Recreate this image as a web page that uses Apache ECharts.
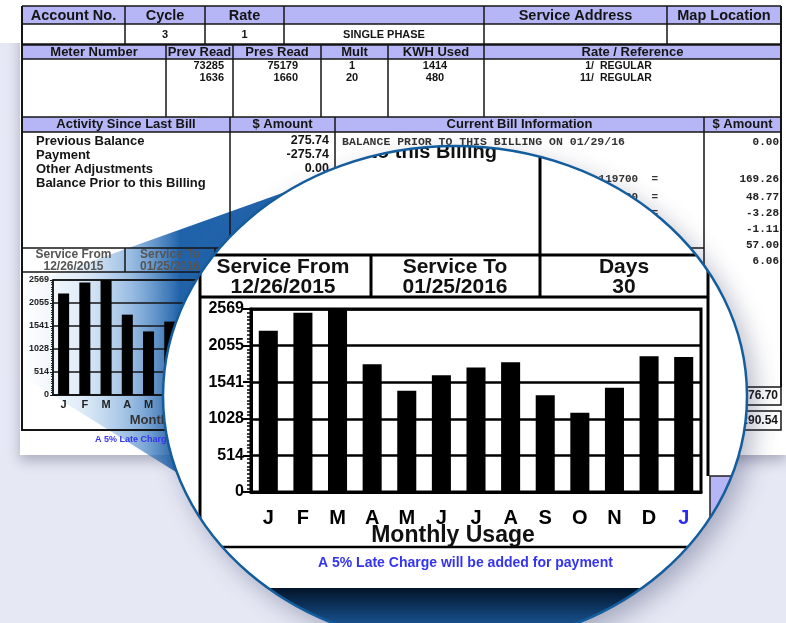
<!DOCTYPE html>
<html>
<head>
<meta charset="utf-8">
<script src="https://cdn.jsdelivr.net/npm/echarts@6/dist/echarts.min.js"></script>
<style>
html, body { margin: 0; padding: 0; background: #e6e8f4; }
#main { width: 786px; height: 623px; }
</style>
</head>
<body>
<div id="main"></div>
<script>
// monthly usage, kWh
var months = ['J', 'F', 'M', 'A', 'M', 'J', 'J', 'A', 'S', 'O', 'N', 'D', 'J'];
var usage = [2265, 2515, 2569, 1795, 1420, 1640, 1748, 1822, 1357, 1112, 1462, 1905, 1894];
var yTickLabels = ['0', '514', '1028', '1541', '2055', '2569'];
var yMax = 2569;
var yStep = yMax / 5;

var activityLabels = ['Previous Balance', 'Payment', 'Other Adjustments', 'Balance Prior to this Billing'];
var activityAmounts = ['275.74', '-275.74', '0.00', ''];
var chargeAmounts = ['0.00', '169.26', '48.77', '-3.28', '-1.11', '57.00', '6.06'];

var SANS = '"Liberation Sans", Arial, sans-serif';
var MONO = '"Liberation Mono", "DejaVu Sans Mono", monospace';
var LAV = '#b6b6f6';
var INK = '#141414';

var chart = echarts.init(document.getElementById('main'));

function rect(x, y, w, h, fill, z) {
    return {type: 'rect', silent: true, z: z == null ? 1 : z, shape: {x: x, y: y, width: w, height: h}, style: {fill: fill}};
}
function box(x, y, w, h, lw) {
    return {type: 'rect', silent: true, z: 2, shape: {x: x, y: y, width: w, height: h},
        style: {fill: null, stroke: INK, lineWidth: lw || 1.5}};
}
function line(x1, y1, x2, y2, lw) {
    return {type: 'line', silent: true, z: 2, shape: {x1: x1, y1: y1, x2: x2, y2: y2},
        style: {stroke: INK, lineWidth: lw || 1.5}};
}
function text(x, y, t, size, align, color, font) {
    return {type: 'text', silent: true, z: 3, x: x, y: y,
        style: {text: t, fill: color || INK, font: 'bold ' + size + 'px ' + (font || SANS),
            align: align || 'center', verticalAlign: 'middle', textAlign: align || 'center', textVerticalAlign: 'middle'}};
}

var els = [];
// paper
els.push({type: 'rect', silent: true, z: 0, shape: {x: 20, y: 0, width: 766, height: 455},
    style: {fill: '#fff', shadowBlur: 12, shadowOffsetY: 6, shadowColor: 'rgba(40,40,70,0.3)'}});
els.push(rect(0, 0, 20, 43, '#fff', 0));

// header fills
els.push(rect(22, 6, 759, 18, LAV));
els.push(rect(22, 45, 759, 14, LAV));
els.push(rect(22, 117, 759, 15, LAV));

// grid lines of the bill
[6, 24, 44.5, 59, 117, 132].forEach(function (y) { els.push(line(22, y, 781, y, y == 44.5 ? 2.5 : 1.5)); });
els.push(line(22, 6, 22, 431, 2));
els.push(line(781, 6, 781, 387, 2));
[125, 205, 284, 484, 667].forEach(function (x) { els.push(line(x, 6, x, 44)); });
[166, 233, 321, 388, 484].forEach(function (x) { els.push(line(x, 45, x, 117)); });
els.push(line(230, 117, 230, 248));
els.push(line(335, 117, 335, 248));
els.push(line(704, 117, 704, 387));
els.push(line(22, 248, 704, 248));
els.push(line(22, 272, 335, 272));
els.push(line(125, 248, 125, 272));
els.push(line(215, 248, 215, 272));
els.push(line(22, 430, 335, 430, 2));
els.push(box(704, 387, 77, 18));
els.push(box(704, 411, 77, 19));

// header texts
els.push(text(73.5, 15.5, 'Account No.', 14.5));
els.push(text(165, 15.5, 'Cycle', 14.5));
els.push(text(244.5, 15.5, 'Rate', 14.5));
els.push(text(575.5, 15.5, 'Service Address', 14.5));
els.push(text(724, 15.5, 'Map Location', 14.5));
els.push(text(165, 35, '3', 11));
els.push(text(244.5, 35, '1', 11));
els.push(text(384, 35, 'SINGLE PHASE', 11));
els.push(text(94, 52.5, 'Meter Number', 13));
els.push(text(199.5, 52.5, 'Prev Read', 13));
els.push(text(277, 52.5, 'Pres Read', 13));
els.push(text(354.5, 52.5, 'Mult', 13));
els.push(text(436, 52.5, 'KWH Used', 13));
els.push(text(632.5, 52.5, 'Rate / Reference', 13));
els.push(text(224, 66, '73285', 11, 'right'));
els.push(text(224, 78, '1636', 11, 'right'));
els.push(text(298, 66, '75179', 11, 'right'));
els.push(text(298, 78, '1660', 11, 'right'));
els.push(text(352, 66, '1', 11));
els.push(text(352, 78, '20', 11));
els.push(text(435, 66, '1414', 11));
els.push(text(435, 78, '480', 11));
els.push(text(594, 66, '1/', 10.5, 'right'));
els.push(text(594, 78, '11/', 10.5, 'right'));
els.push(text(600, 66, 'REGULAR', 10.5, 'left'));
els.push(text(600, 78, 'REGULAR', 10.5, 'left'));
els.push(text(126, 124.5, 'Activity Since Last Bill', 13));
els.push(text(282.5, 124.5, '$ Amount', 13));
els.push(text(519.5, 124.5, 'Current Bill Information', 13));
els.push(text(742.5, 124.5, '$ Amount', 13));

activityLabels.forEach(function (t, i) {
    els.push(text(36, 141 + i * 14, t, 13, 'left'));
    if (activityAmounts[i]) els.push(text(329, 141 + i * 14, activityAmounts[i], 12.5, 'right'));
});
els.push(text(342, 142, 'BALANCE PRIOR TO THIS BILLING ON 01/29/16', 11.5, 'left', '#333', MONO));
els.push(text(658, 179, '119700  =', 11, 'right', '#333', MONO));
els.push(text(658, 197, '00  =', 11, 'right', '#333', MONO));
els.push(text(658, 213, '=', 11, 'right', '#333', MONO));
var chargeY = [142, 179, 197, 213, 229, 245, 261];
chargeAmounts.forEach(function (t, i) {
    els.push(text(779, chargeY[i], t, 11, 'right', '#222', MONO));
});
els.push(text(778, 396, '276.70', 12, 'right'));
els.push(text(778, 421, '290.54', 12, 'right'));

// small service boxes + chart captions
els.push(text(73.5, 255, 'Service From', 12, 'center', '#555'));
els.push(text(73.5, 266.5, '12/26/2015', 12, 'center', '#555'));
els.push(text(170, 255, 'Service To', 12, 'center', '#555'));
els.push(text(170, 266.5, '01/25/2016', 12, 'center', '#555'));
els.push(text(176, 420, 'Monthly Usage', 13, 'center', '#333'));
els.push(text(95, 440, 'A 5% Late Charge will be added for payment', 9, 'left', '#3535f2'));

// the beam towards the lens, laid under the printed marks
els.push({
    type: 'polygon', silent: true, z: 1,
    shape: {points: [[22, 286], [330, 176], [330, 482], [184, 477], [22, 376]]},
    style: {
        fill: new echarts.graphic.LinearGradient(22, 0, 180, 0, [
            {offset: 0, color: 'rgba(160,195,230,0)'},
            {offset: 0.35, color: 'rgba(140,185,228,0.25)'},
            {offset: 0.7, color: 'rgba(80,140,205,0.6)'},
            {offset: 1, color: 'rgba(20,90,165,0.95)'}
        ], true)
    }
});

function yLabel(v) {
    return yTickLabels[Math.round(v / yStep)] || '';
}

var option = {
    backgroundColor: '#e6e8f4',
    animation: false,
    graphic: {elements: els},
    grid: [
        {left: 53, top: 280, width: 276, height: 115, show: true, borderColor: INK, borderWidth: 1.5, z: 3},
        {left: 251, top: 309, width: 450, height: 183, show: true, borderColor: '#000', borderWidth: 3, z: 6}
    ],
    xAxis: [
        {
            gridIndex: 0, type: 'category', data: months, z: 3,
            axisLine: {lineStyle: {color: INK, width: 1.5}},
            axisTick: {alignWithLabel: true, length: 4, lineStyle: {color: INK, width: 1.5}},
            axisLabel: {interval: 0, margin: 4, fontSize: 11, fontWeight: 'bold', fontFamily: SANS, color: '#222'}
        },
        {
            gridIndex: 1, type: 'category', data: months, z: 6,
            axisLine: {lineStyle: {color: '#000', width: 3}},
            axisTick: {alignWithLabel: true, length: 12, lineStyle: {color: '#000', width: 2.5}},
            axisLabel: {
                interval: 0, margin: 16, fontSize: 20, fontWeight: 'bold', fontFamily: SANS,
                color: function (v, i) { return i == months.length - 1 ? '#2b2bf5' : '#000'; }
            }
        }
    ],
    yAxis: [
        {
            gridIndex: 0, type: 'value', min: 0, max: yMax, interval: yStep, z: 3,
            axisLine: {show: true, lineStyle: {color: INK, width: 1.5}},
            axisTick: {show: true, length: 3, lineStyle: {color: INK}},
            minorTick: {show: true, splitNumber: 10, length: 2, lineStyle: {color: '#222', width: 1}},
            splitLine: {lineStyle: {color: INK, width: 1.5}},
            axisLabel: {margin: 4, fontSize: 9, fontWeight: 'bold', fontFamily: SANS, color: '#222', formatter: yLabel}
        },
        {
            gridIndex: 1, type: 'value', min: 0, max: yMax, interval: yStep, z: 6,
            axisLine: {show: true, lineStyle: {color: '#000', width: 3}},
            axisTick: {show: true, length: 8, lineStyle: {color: '#000', width: 2}},
            minorTick: {show: true, splitNumber: 10, length: 4, lineStyle: {color: '#000', width: 1.5}},
            splitLine: {lineStyle: {color: '#000', width: 2.5}},
            axisLabel: {margin: 7, fontSize: 16, fontWeight: 'bold', fontFamily: SANS, color: '#000', formatter: yLabel}
        }
    ],
    series: [
        {type: 'bar', xAxisIndex: 0, yAxisIndex: 0, data: usage, barWidth: '52%', z: 3,
            itemStyle: {color: '#000'}, silent: true},
        {type: 'bar', xAxisIndex: 1, yAxisIndex: 1, data: usage, barWidth: '55%', z: 7,
            itemStyle: {color: '#000'}, silent: true}
    ]
};
chart.setOption(option);

// the magnifying lens, drawn straight on the zrender layer so its content can be clipped
var G = echarts.graphic;
var zr = chart.getZr();
var lens = {cx: 455, cy: 396, rx: 292, ry: 250};

zr.add(new G.Ellipse({shape: lens, z: 4, silent: true,
    style: {fill: '#fff', shadowBlur: 26, shadowOffsetX: 8, shadowOffsetY: 10, shadowColor: 'rgba(40,45,90,0.35)'}}));

var inner = new G.Group();
inner.setClipPath(new G.Ellipse({shape: {cx: lens.cx, cy: lens.cy, rx: lens.rx, ry: lens.ry}}));

function zLine(x1, y1, x2, y2, lw) {
    inner.add(new G.Line({shape: {x1: x1, y1: y1, x2: x2, y2: y2}, z: 5, silent: true,
        style: {stroke: '#000', lineWidth: lw || 3}}));
}
function zText(x, y, t, size, align, color) {
    inner.add(new G.Text({z: 5, silent: true, style: {x: x, y: y, text: t, fill: color || '#111',
        font: 'bold ' + size + 'px ' + SANS, align: align || 'center', verticalAlign: 'middle'}}));
}

inner.add(new G.Rect({shape: {x: 150, y: 588, width: 620, height: 60}, z: 5, silent: true,
    style: {fill: new G.LinearGradient(0, 0, 0, 1, [
        {offset: 0, color: '#02142a'},
        {offset: 0.55, color: '#164c85'},
        {offset: 1, color: '#2a6aa8'}
    ])}}));
inner.add(new G.Rect({shape: {x: 710, y: 476, width: 50, height: 110}, z: 5, silent: true,
    style: {fill: LAV, stroke: '#222', lineWidth: 1.5}}));

zText(497, 152, 'Balance Prior to this Billing', 20, 'right');
zLine(540, 140, 540, 255, 3);
zLine(150, 255, 708, 255, 3);
zLine(200, 255, 200, 547, 3);
zLine(371, 255, 371, 297, 3);
zLine(540, 255, 540, 297, 3);
zLine(708, 255, 708, 476, 3);
zLine(200, 297, 708, 297, 3);
zLine(150, 547, 760, 547, 2.5);

zText(283, 267, 'Service From', 21);
zText(283, 287, '12/26/2015', 21);
zText(455, 267, 'Service To', 21);
zText(455, 287, '01/25/2016', 21);
zText(624, 267, 'Days', 21);
zText(624, 287, '30', 21);
zText(453, 536, 'Monthly Usage', 23, 'center', '#111');
zText(318, 563, 'A 5% Late Charge will be added for payment', 14, 'left', '#3434ee');

zr.add(inner);

zr.add(new G.Ellipse({shape: lens, z: 8, silent: true,
    style: {fill: 'none', stroke: '#145d9d', lineWidth: 2.5}}));
</script>
</body>
</html>
